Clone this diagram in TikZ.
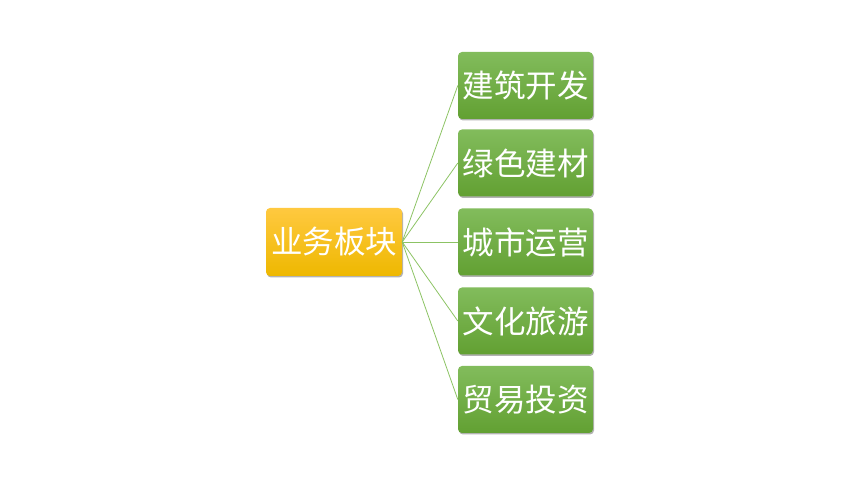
\documentclass[tikz,border=0pt]{standalone}
\usepackage{fontspec}
\newfontfamily\cjk{Noto Sans CJK SC}
\usetikzlibrary{positioning}
\usetikzlibrary{shadows}
\definecolor{greentop}{RGB}{130,188,92}
\definecolor{greenbot}{RGB}{98,160,50}
\definecolor{orangetop}{RGB}{255,201,64}
\definecolor{orangebot}{RGB}{238,184,0}
\definecolor{linkgreen}{RGB}{140,195,100}

\begin{document}
\begin{tikzpicture}[x=1pt,y=1pt,
    box/.style={rectangle, rounded corners=4pt, minimum width=135pt, minimum height=67pt,
      inner sep=0pt, text=white, font=\cjk\fontsize{31.5}{31.5}\selectfont,
      drop shadow={shadow xshift=1pt, shadow yshift=-1.5pt, opacity=0.3, fill=black}},
    branch/.style={box, top color=greentop, bottom color=greenbot},
    root/.style={box, minimum width=136pt, minimum height=68pt, top color=orangetop, bottom color=orangebot},
    link/.style={draw=linkgreen, line width=0.8pt}]
    \useasboundingbox (0,0) rectangle (860,484);

    % Root node
    \node[root] (main) at (334,242) {业务板块};

    % Branch nodes
    \foreach \i/\y/\txt in {1/398.5/建筑开发, 2/321/绿色建材, 3/242/城市运营, 4/163/文化旅游, 5/84.5/贸易投资}
        \node[branch] (b\i) at (525.5,\y) {\txt};

    % Draw the links
    \foreach \i in {1,...,5}
        \draw[link] (main.east) -- (b\i.west);
\end{tikzpicture}
\end{document}
